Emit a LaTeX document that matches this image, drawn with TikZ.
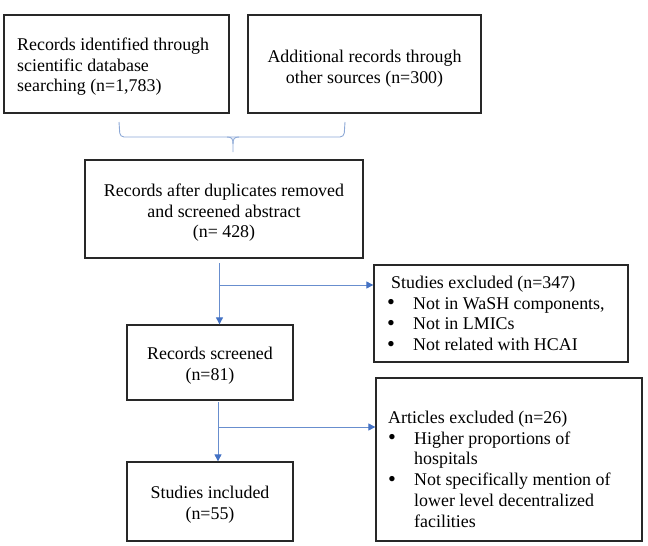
\documentclass[tikz,border=0pt]{standalone}
\usepackage{fontspec}
\setmainfont{Liberation Serif}
\usetikzlibrary{arrows.meta}
\definecolor{flowblue}{RGB}{104,142,206}
\definecolor{tipblue}{RGB}{68,114,196}
\definecolor{braceblue}{RGB}{140,168,214}
\definecolor{boxline}{RGB}{40,40,40}
\newcommand{\bul}{\makebox[26pt][l]{\raisebox{-0.5pt}{\scalebox{1.25}{\textbullet}}}}
\newcommand{\fl}{\rule{0pt}{15pt}}
\begin{document}
\begin{tikzpicture}[x=1pt,y=-1pt,
  box/.style={draw=boxline, line width=1.3pt, inner sep=0pt},
  lbl/.style={inner sep=0pt, font=\fontsize{17.9}{20.8}\selectfont},
  lblc/.style={lbl, anchor=north, align=center},
  lbll/.style={lbl, anchor=north west, align=left},
  flow/.style={draw=flowblue, line width=0.9pt},
  tip/.style={-{Triangle[width=7pt,length=7pt,color=tipblue]}},
  brace/.style={draw=braceblue, line width=0.9pt}]
\path[use as bounding box] (0,0) rectangle (648,546);

% boxes
\node[box, minimum width=225pt, minimum height=98pt] (a) at (116.5,64) {};
\node[box, minimum width=233pt, minimum height=98pt] (b) at (364.5,64) {};
\node[box, minimum width=278pt, minimum height=98pt] (c) at (224,209) {};
\node[box, minimum width=254pt, minimum height=97pt] (e) at (501,313.5) {};
\node[box, minimum width=166pt, minimum height=75pt] (d) at (210,362.5) {};
\node[box, minimum width=266pt, minimum height=163pt] (f) at (509,459.5) {};
\node[box, minimum width=166pt, minimum height=79pt] (g) at (210,501.5) {};

% texts
\node[lbll] (ta) at (17,35)
  {\fl Records identified through\\scientific database\\searching (n=1,783)};
\node[lblc] (tb) at (364.5,47)
  {\fl Additional records through\\other sources (n=300)};
\node[lblc] (tc) at (224,181)
  {\fl Records after duplicates removed\\and screened abstract\\(n= 428)};
\node[lbll] (te) at (391,273)
  {\fl Studies excluded (n=347)\\
   \hspace*{-4pt}\bul Not in WaSH components,\\
   \hspace*{-4pt}\bul Not in LMICs\\
   \hspace*{-4pt}\bul Not related with HCAI};
\node[lblc] (td) at (210,344) {\fl Records screened\\(n=81)};
\node[lbll] (tf) at (388,408)
  {\fl Articles excluded (n=26)\\
   \bul Higher proportions of\\
   \hspace*{26pt}hospitals\\
   \bul Not specifically mention of\\
   \hspace*{26pt}lower level decentralized\\
   \hspace*{26pt}facilities};
\node[lblc] (tg) at (210,483) {\fl Studies included\\(n=55)};

% brace
\coordinate (bl) at (119,122);
\coordinate (br) at (345,122);
\coordinate (bt) at (233,152);
\draw[brace, rounded corners=4pt] (bl) -- (120,137) -- (344,137) -- (br);
\draw[brace] (227,137) .. controls (232,137) and (233,139) .. (233,144) -- (bt);
\draw[brace] (239,137) .. controls (234,137) and (233,139) .. (233,144);

% connectors
\coordinate (s1) at (219.5,263);
\coordinate (j1) at (219.5,285);
\draw[flow, tip] (s1) -- (s1 |- d.north);
\draw[flow, tip] (j1) -- (j1 -| e.west);

\coordinate (s2) at (218,402);
\coordinate (j2) at (218,427);
\draw[flow, tip] (s2) -- (s2 |- g.north);
\draw[flow, tip] (j2) -- (j2 -| f.west);
\end{tikzpicture}
\end{document}
